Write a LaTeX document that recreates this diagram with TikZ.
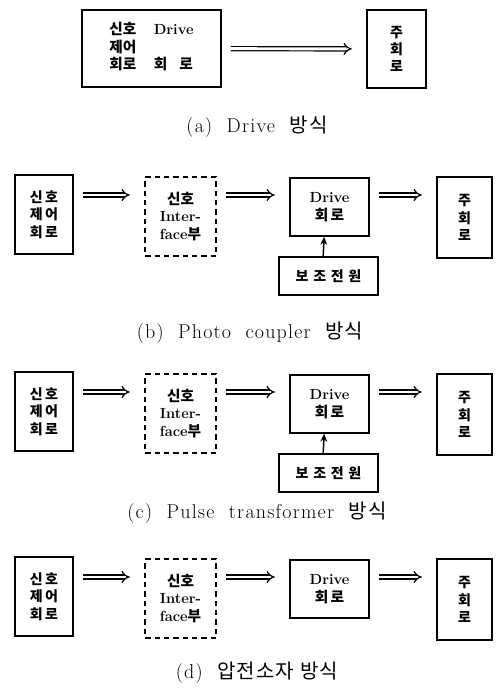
\documentclass[tikz,border=0pt]{standalone}
\usepackage{fontspec}
\newfontfamily\kr{Noto Sans CJK KR}
\newfontfamily\capfont{Latin Modern Roman}[LetterSpace=6,WordSpace=2]
\newfontfamily\krcap{Noto Sans CJK KR}[LetterSpace=6]
\usetikzlibrary{arrows.meta}

\tikzset{
  blk/.style={draw,line width=1.1pt,align=center,inner sep=0pt,
    font=\bfseries\fontsize{11}{13}\selectfont},
  kblk/.style={blk,font=\kr\bfseries\fontsize{10.5}{13}\selectfont},
  dblk/.style={blk,dash pattern=on 4pt off 3pt},
  dbl/.style={double,double distance=2.2pt,line width=0.9pt,-{Implies},
    shorten <=7pt,shorten >=11pt},
  feed/.style={line width=1.1pt,-{Stealth[length=6pt,width=5pt]}},
  capt/.style={font=\capfont\fontsize{15}{17}\selectfont}
}

\begin{document}
\begin{tikzpicture}[x=0.75pt,y=-0.75pt]
		\useasboundingbox (0,0) rectangle (500,689);
		
		% (a)
		\node[blk,minimum width=104pt,minimum height=58pt] (sig-a) at (151.5,48.5)
		{\begin{tabular}{@{}l@{\hspace{13pt}}l@{}}
			{\kr 신호} & Drive \\
			{\kr 제어} & \\
			{\kr 회로} & {\kr 회\hspace{9pt}로}
		\end{tabular}};
		\node[kblk,minimum width=44pt,minimum height=58.5pt] (main-a) at (396.5,49) {주\\회\\로};
		\draw[dbl] (sig-a) -- (main-a);
		\node[capt] (cap-a) at (257,127) {(a) Drive {\krcap 방식}};
		
		% (b), (c), (d)
		\foreach \p/\oy in {b/0,c/197,d/382}{
			\coordinate (y-\p) at (0,195+\oy);
			\node[kblk,minimum width=43.5pt,minimum height=59pt] (sig-\p) at (44,214.5+\oy)
				{신\,호\\제\,어\\회\,로};
			\node[dblk,minimum width=53pt,minimum height=59pt] (if-\p) at (180.5,216.5+\oy)
				{{\kr 신호}\\Inter-\\face{\kr 부}};
			\node[blk,minimum width=59pt,minimum height=43.5pt] (drv-\p) at (329.5,207+\oy)
				{Drive\\{\kr 회\,로}};
			\node[kblk,minimum width=41pt,minimum height=61pt] (main-\p) at (464.5,217.5+\oy)
				{주\\회\\로};
			\draw[dbl] (sig-\p.east |- y-\p) -- (if-\p.west |- y-\p);
			\draw[dbl] (if-\p.east |- y-\p) -- (drv-\p.west |- y-\p);
			\draw[dbl] (drv-\p.east |- y-\p) -- (main-\p.west |- y-\p);
		}
		\foreach \p/\oy in {b/0,c/197}{
			\node[kblk,minimum width=74pt,minimum height=28.5pt] (pwr-\p) at (328.5,276+\oy)
				{보\,\,조\,\,전\,\,원};
			\draw[feed] ([xshift=-4pt]pwr-\p.north) -- ([xshift=-4pt]drv-\p.south);
		}
		
		\node[capt] (cap-b) at (250,333) {(b) Photo coupler {\krcap 방식}};
		\node[capt] (cap-c) at (257,513) {(c) Pulse transformer {\krcap 방식}};
		\node[capt] (cap-d) at (257,673) {(d) {\krcap 압전소자 방식}};
		\end{tikzpicture}
\end{document}
